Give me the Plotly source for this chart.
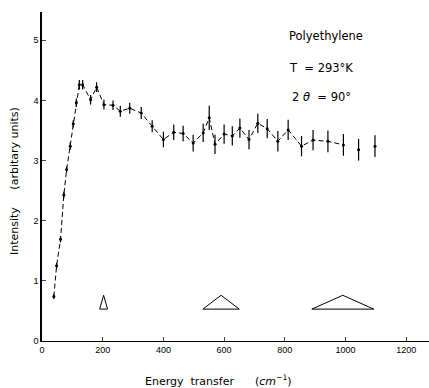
import plotly.graph_objects as go

# Data
energy = [39, 48, 61, 72, 81, 93, 103, 113, 123, 134, 160, 180, 204, 234, 258, 289, 327, 363,
          400, 434, 465, 498, 531, 551, 570, 600, 627, 652, 682, 711, 742, 777, 811, 855, 893,
          942, 993, 1043, 1097]
intensity = [0.74, 1.25, 1.69, 2.43, 2.85, 3.24, 3.61, 3.96, 4.26, 4.26, 4.01, 4.22, 3.93, 3.92,
             3.82, 3.87, 3.79, 3.57, 3.35, 3.47, 3.45, 3.29, 3.46, 3.71, 3.27, 3.44, 3.41, 3.54,
             3.35, 3.62, 3.53, 3.32, 3.51, 3.24, 3.34, 3.32, 3.26, 3.18, 3.24]
errors = [0.04, 0.05, 0.05, 0.05, 0.05, 0.06, 0.06, 0.07, 0.08, 0.08, 0.08, 0.08, 0.08, 0.08,
          0.09, 0.09, 0.1, 0.1, 0.13, 0.13, 0.13, 0.14, 0.15, 0.2, 0.16, 0.16, 0.16, 0.16, 0.16,
          0.16, 0.16, 0.17, 0.17, 0.17, 0.17, 0.18, 0.18, 0.18, 0.18]
n_connected = 37  # dashed line runs through the first points only

# Resolution triangles
tri_center = [203, 590, 991]
tri_halfwidth = [13, 60, 102]
tri_base = 0.53
tri_apex = 0.76

x_ticks = [0, 200, 400, 600, 800, 1000, 1200]
y_ticks = [0, 1, 2, 3, 4, 5]

fig = go.Figure()

fig.add_trace(go.Scatter(
    x=energy[:n_connected], y=intensity[:n_connected], mode="lines",
    line=dict(color="black", width=1, dash="5px,3px"), hoverinfo="skip", showlegend=False))

fig.add_trace(go.Scatter(
    x=energy, y=intensity, mode="markers",
    marker=dict(color="black", size=3),
    error_y=dict(type="data", array=errors, color="black", thickness=1.2, width=0),
    showlegend=False))

for c, hw in zip(tri_center, tri_halfwidth):
    fig.add_trace(go.Scatter(
        x=[c - hw, c, c + hw, c - hw], y=[tri_base, tri_apex, tri_base, tri_base],
        mode="lines", line=dict(color="black", width=1), showlegend=False, hoverinfo="skip"))

font = "Liberation Sans, Arial, sans-serif"
tfont = "DejaVu Sans, sans-serif"

W, H = 429, 388
l, r, t, b = 42, 0, 12, 47
pw, ph = W - l - r, H - t - b


def px(x, y):
    return (x - l) / pw, 1 - (y - t) / ph


def ann(text, x, y, xanchor="left", angle=0, size=11):
    ax, ay = px(x, y)
    return dict(text=text, x=ax, y=ay, xref="paper", yref="paper", showarrow=False,
                xanchor=xanchor, yanchor="middle", textangle=angle,
                font=dict(family=tfont, size=size, color="black"))


fig.update_layout(
    width=W, height=H,
    margin=dict(l=l, r=r, t=t, b=b),
    paper_bgcolor="white", plot_bgcolor="white",
    font=dict(family=font, color="black", size=9),
    xaxis=dict(range=[0, 1275], tickvals=x_ticks, ticks="inside", ticklen=4,
               showline=True, linecolor="black", linewidth=1, showgrid=False,
               zeroline=False, tickfont=dict(size=9), automargin=False),
    yaxis=dict(range=[0, 5.47], tickvals=y_ticks, ticks="inside", ticklen=4,
               showline=True, linecolor="black", linewidth=1.5, showgrid=False,
               zeroline=False, tickfont=dict(size=9), automargin=False),
    annotations=[
        ann("Polyethylene", 287, 36, size=11.5),
        ann("T  = 293°K", 287, 68, size=11.5),
        ann("2 <i>θ</i>  = 90°", 290, 97, size=11.5),
        ann("Energy  transfer      (<i>cm</i><sup>−1</sup>)", 218, 380, xanchor="center"),
        ann("Intensity     (arbitary units)", 14, 181, xanchor="center", angle=-90),
    ],
)

fig.write_html("out.html", config={"displayModeBar": False},
               post_script="document.body.style.margin='0';document.body.style.padding='0';")
